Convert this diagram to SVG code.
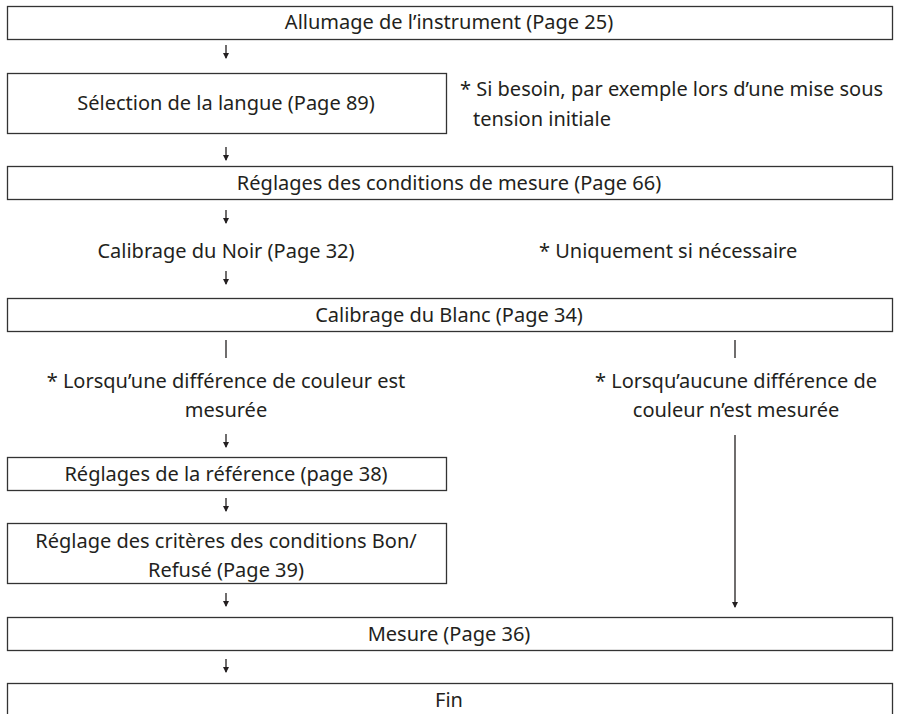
<svg xmlns="http://www.w3.org/2000/svg" width="899" height="714" viewBox="0 0 899 714">
<style>
.box{fill:#fff;stroke:#333;stroke-width:1.3}
.t{font-family:"Noto Sans","Open Sans",sans-serif;font-size:20px;fill:#231f20}
.c{text-anchor:middle}
.ln{stroke:#231f20;stroke-width:1.3;fill:none}
.ah{fill:#231f20}
</style>
<rect width="899" height="714" fill="#fff"/>
<g id="connectors">
<path class="ln" d="M226,45 V58"/>
<path class="ah" d="M223,53 L229,53 L226,59 Z"/>
<path class="ln" d="M226,147 V160"/>
<path class="ah" d="M223,155 L229,155 L226,161 Z"/>
<path class="ln" d="M226,210 V223"/>
<path class="ah" d="M223,218 L229,218 L226,224 Z"/>
<path class="ln" d="M226,271 V284"/>
<path class="ah" d="M223,279 L229,279 L226,285 Z"/>
<path class="ln" d="M226,340 V358"/>
<path class="ln" d="M735,340 V358"/>
<path class="ln" d="M226,434 V447"/>
<path class="ah" d="M223,442 L229,442 L226,448 Z"/>
<path class="ln" d="M226,498 V511"/>
<path class="ah" d="M223,506 L229,506 L226,512 Z"/>
<path class="ln" d="M226,593 V606"/>
<path class="ah" d="M223,601 L229,601 L226,607 Z"/>
<path class="ln" d="M226,659 V672"/>
<path class="ah" d="M223,667 L229,667 L226,673 Z"/>
<path class="ln" d="M735,435 V607"/>
<path class="ah" d="M732,602 L738,602 L735,608 Z"/>
</g>
<g id="n1"><rect class="box" x="7.5" y="6.5" width="885" height="33"/><text class="t c" x="449" y="29">Allumage de l’instrument (Page 25)</text></g>
<g id="n2"><rect class="box" x="7.5" y="73.5" width="439" height="60"/><text class="t c" x="226" y="110">Sélection de la langue (Page 89)</text></g>
<g id="note1"><text class="t" x="460" y="96">* Si besoin, par exemple lors d’une mise sous</text><text class="t" x="473" y="126">tension initiale</text></g>
<g id="n3"><rect class="box" x="7.5" y="166.5" width="885" height="33"/><text class="t c" x="449" y="190">Réglages des conditions de mesure (Page 66)</text></g>
<g id="n4"><text class="t c" x="226" y="258">Calibrage du Noir (Page 32)</text></g>
<g id="note2"><text class="t" x="539" y="258">* Uniquement si nécessaire</text></g>
<g id="n5"><rect class="box" x="7.5" y="298.5" width="885" height="33"/><text class="t c" x="449" y="322">Calibrage du Blanc (Page 34)</text></g>
<g id="note3"><text class="t c" x="226" y="388">* Lorsqu’une différence de couleur est</text><text class="t c" x="226" y="417">mesurée</text></g>
<g id="note4"><text class="t c" x="736" y="388">* Lorsqu’aucune différence de</text><text class="t c" x="736" y="417">couleur n’est mesurée</text></g>
<g id="n6"><rect class="box" x="7.5" y="457.5" width="439" height="33"/><text class="t c" x="226" y="481">Réglages de la référence (page 38)</text></g>
<g id="n7"><rect class="box" x="7.5" y="523.5" width="439" height="60"/><text class="t c" x="226" y="548">Réglage des critères des conditions Bon/</text><text class="t c" x="226" y="577">Refusé (Page 39)</text></g>
<g id="n8"><rect class="box" x="7.5" y="617.5" width="885" height="33"/><text class="t c" x="449" y="641">Mesure (Page 36)</text></g>
<g id="n9"><rect class="box" x="7.5" y="683.5" width="885" height="40"/><text class="t c" x="449" y="707">Fin</text></g>
</svg>
